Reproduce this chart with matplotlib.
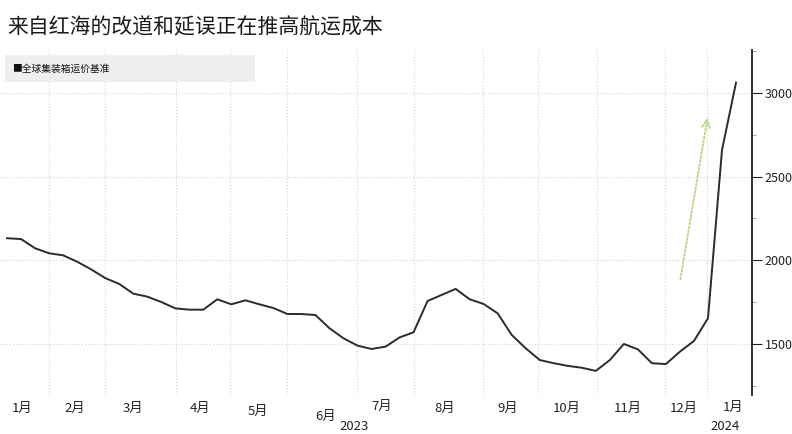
import matplotlib
matplotlib.use("Agg")
import matplotlib.pyplot as plt
from matplotlib.ticker import MultipleLocator
import matplotlib.transforms as mtransforms

plt.rcParams['font.family'] = ['Noto Sans CJK SC', 'DejaVu Sans']

title = "来自红海的改道和延误正在推高航运成本"
series_name = "全球集装箱运价基准"

# Weekly container freight benchmark (USD per 40ft), Jan 2023 - Jan 2024
values = [2132, 2127, 2072, 2042, 2030, 1992, 1946, 1894, 1859, 1801,
          1783, 1751, 1713, 1705, 1705, 1767, 1737, 1761, 1737, 1715,
          1679, 1679, 1673, 1594, 1534, 1490, 1470, 1484, 1539, 1570,
          1757, 1793, 1829, 1767, 1739, 1683, 1554, 1474, 1404, 1385,
          1369, 1358, 1339, 1404, 1500, 1468, 1385, 1380, 1454, 1518,
          1654, 2659, 3062]
weeks = list(range(len(values)))

month_labels = ["1月", "2月", "3月", "4月", "5月", "6月", "7月",
                "8月", "9月", "10月", "11月", "12月", "1月"]
year_labels = ["2023", "2024"]
y_ticks = [1500, 2000, 2500, 3000]

# layout (week-index positions)
month_label_x = [1.07, 4.85, 9.0, 13.8, 17.9, 22.7, 26.7, 31.2, 35.7, 39.9, 44.3, 48.3, 51.8]
month_label_y = [408, 408, 408, 408, 411, 416, 406, 408, 408, 408, 408, 408, 407]
year_label_x = [24.75, 51.2]
vgrid_x = [3, 7, 12.05, 15.9, 20, 25, 29, 33.95, 37.9, 42.1, 46.9, 49.9]

W, H = 792, 434
fig = plt.figure(figsize=(W / 100, H / 100), dpi=100)
ax = fig.add_axes([0, 1 - 395 / H, 752 / W, (395 - 50) / H])

ax.plot(weeks, values, color="#2b2b2b", lw=1.4, zorder=3)

ax.set_xlim(-0.5, 53.14)
ax.set_ylim(1195, 3257)

for v in y_ticks:
    ax.axhline(v, color="#d9d9d9", lw=0.9, ls=(0, (1, 1.5)), zorder=1)
for xv in vgrid_x:
    ax.axvline(xv, color="#d9d9d9", lw=0.9, ls=(0, (1, 1.5)), zorder=1)

for s in ["top", "left", "bottom"]:
    ax.spines[s].set_visible(False)
ax.spines["right"].set_color("#222222")
ax.spines["right"].set_linewidth(1.3)

ax.set_xticks([])
ax.yaxis.tick_right()
ax.set_yticks(y_ticks)
ax.set_yticklabels([str(v) for v in y_ticks])
ax.yaxis.set_minor_locator(MultipleLocator(250))
ax.tick_params(axis="y", which="major", direction="out", length=7, width=0.8,
               colors="#222222", labelsize=9, pad=2)
ax.tick_params(axis="y", which="minor", direction="out", length=3, width=0.6,
               colors="#999999")

# month labels
trans = mtransforms.blended_transform_factory(ax.transData, fig.transFigure)
for lab, xv, yv in zip(month_labels, month_label_x, month_label_y):
    ax.text(xv, 1 - yv / H, lab, transform=trans, ha="center", va="center",
            fontsize=9.5, color="#222222", clip_on=False)
for lab, xv in zip(year_labels, year_label_x):
    ax.text(xv, 1 - 427 / H, lab, transform=trans, ha="center", va="center",
            fontsize=9.5, color="#222222", clip_on=False)

# green dotted arrow
ax.annotate("", xy=(50.0, 2869), xytext=(48.0, 1870),
            arrowprops=dict(arrowstyle="->", color="#b5d77a", lw=1.3,
                            linestyle=(0, (1, 1.2)), mutation_scale=14),
            zorder=2)

# legend box
fig.patches.append(plt.Rectangle((5 / W, 1 - 82 / H), 250 / W, 27 / H,
                                 transform=fig.transFigure, facecolor="#efefef",
                                 edgecolor="none", zorder=0))
fig.text(12 / W, 1 - 68.5 / H, "■" + series_name, fontsize=7, color="#111111",
         va="center", ha="left", family=['Noto Sans CJK SC', 'DejaVu Sans'])

fig.text(7 / W, 1 - 27 / H, title, fontsize=15, color="#1a1a1a",
         va="center", ha="left")

fig.savefig("out.png", dpi=100)
